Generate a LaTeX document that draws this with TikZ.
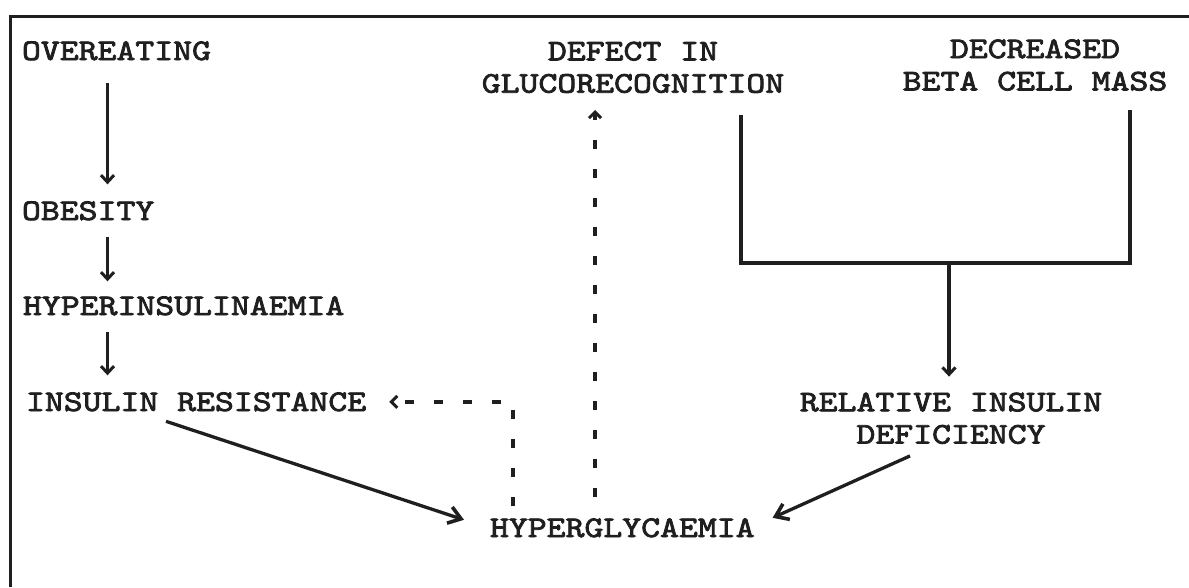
\documentclass[tikz,border=0pt]{standalone}
\usepackage{fontspec}
\usetikzlibrary{arrows.meta}
\newfontfamily\twfam{lmmono10-regular.otf}[FakeStretch=1.2,FakeBold=2.6]
\newcommand{\twfont}{\twfam\fontsize{30}{32.3}\selectfont}
\tikzset{
  lbl/.style={inner sep=0pt, outer sep=0pt, font=\twfont, text=black!88},
  lbl2/.style={lbl, align=center, anchor=north},
  ln/.style={line width=3.3pt, draw=black!88},
  arr/.style={ln, -{Straight Barb[length=7pt,width=13pt,line width=3pt]}},
  darr/.style={ln, -{Straight Barb[length=12pt,width=17pt,line width=3.6pt]}},
  dsh/.style={line width=3.6pt, draw=black!88, dash pattern=on 9pt off 20pt,
    -{Straight Barb[length=6pt,width=12pt,line width=3pt]}},
  frame/.style={line width=2.6pt, draw=black!88}
}
\begin{document}
\begin{tikzpicture}[x=1pt,y=-1pt]
\useasboundingbox (0,0) rectangle (1189,587);
\fill[white] (0,0) rectangle (1189,587);
% frame (top and left edges)
\coordinate (ftl) at (10.5,16.5);
\coordinate (ftr) at (1189,16.5);
\coordinate (fbl) at (10.5,587);
\draw[frame] (ftr) -- (ftl) -- (fbl);
% nodes
\node[lbl, anchor=base west] (over) at (22,60) {OVEREATING};
\node[lbl, anchor=base west] (obes) at (22,220) {OBESITY};
\node[lbl, anchor=base west] (hins) at (23,315) {HYPERINSULINAEMIA};
\node[lbl, anchor=base west] (ires) at (26,411) {INSULIN RESISTANCE};
\node[lbl, anchor=base west] (hgly) at (490,537) {HYPERGLYCAEMIA};
\node[lbl2] (defect) at (633,41.7) {DEFECT IN\\GLUCORECOGNITION};
\node[lbl2] (beta) at (1035,39.4) {DECREASED\\BETA CELL MASS};
\node[lbl2] (rel) at (951,392.6) {RELATIVE INSULIN\\DEFICIENCY};
% helper coordinates
\coordinate (lx) at (107.5,0);
\coordinate (mx) at (595,0);
\coordinate (dx) at (513,0);
\coordinate (jl) at (741,0);
\coordinate (jr) at (1130,0);
\coordinate (jm) at (949,263);
% left chain
\draw[arr, shorten <=23pt, shorten >=17pt] (over.south -| lx) -- (obes.north -| lx);
\draw[arr, shorten <=17pt, shorten >=15pt] (obes.south -| lx) -- (hins.north -| lx);
\draw[arr, shorten <=17pt, shorten >=17pt] (hins.south -| lx) -- (ires.north -| lx);
% diagonals into hyperglycaemia
\draw[darr] ([xshift=140pt,yshift=-10pt]ires.south west) -- ([xshift=-26pt,yshift=8pt]hgly.west);
\draw[darr] ([xshift=-41pt,yshift=-12pt]rel.south) -- ([xshift=18pt,yshift=10pt]hgly.east);
% dashed feedback
\draw[dsh, shorten <=21pt, shorten >=17pt] (hgly.north -| mx) -- (defect.south -| mx);
\draw[dsh, shorten <=12pt, shorten >=23pt] (hgly.north -| dx) |- (ires.east);
% junction from defect and beta cell mass
\draw[ln, shorten <=22pt, shorten >=19pt] (defect.south -| jl) |- (jm) -| (beta.south -| jr);
\draw[arr, shorten >=16pt] (jm) -- (jm |- rel.north);
\end{tikzpicture}
\end{document}
